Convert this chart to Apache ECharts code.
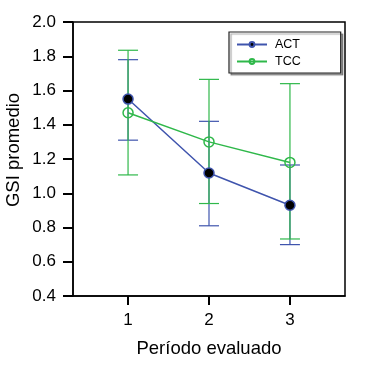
<!DOCTYPE html>
<html><head><meta charset="utf-8">
<script src="https://cdn.jsdelivr.net/npm/echarts@6/dist/echarts.min.js"></script>
<style>html,body{margin:0;padding:0;background:#fff}#c{width:365px;height:365px}</style>
</head><body><div id="c"></div>
<script>
const periods = [1, 2, 3];
const actMean = [1.55, 1.118, 0.93];
const actLow  = [1.31, 0.81, 0.70];
const actHigh = [1.78, 1.42, 1.165];
const tccMean = [1.47, 1.30, 1.18];
const tccLow  = [1.107, 0.94, 0.733];
const tccHigh = [1.835, 1.665, 1.64];
const yTitle = 'GSI promedio';
const xTitle = 'Período evaluado';

const BLUE = '#3f54ad';
const GREEN = '#2fb84a';
const FONT = 'Liberation Sans, Arial, sans-serif';

function errSeries(id, low, high, color) {
  return {
    type: 'custom', id: id, silent: true, z: 1,
    data: periods.map((p, i) => [p, low[i], high[i]]),
    renderItem: function (params, api) {
      const x = api.value(0);
      const lo = api.coord([x, api.value(1)]);
      const hi = api.coord([x, api.value(2)]);
      const hw = 10;
      const st = { stroke: color, lineWidth: 1.2 };
      return { type: 'group', children: [
        { type: 'line', shape: { x1: lo[0], y1: lo[1], x2: hi[0], y2: hi[1] }, style: st },
        { type: 'line', shape: { x1: lo[0]-hw, y1: lo[1], x2: lo[0]+hw, y2: lo[1] }, style: st },
        { type: 'line', shape: { x1: hi[0]-hw, y1: hi[1], x2: hi[0]+hw, y2: hi[1] }, style: st }
      ]};
    }
  };
}

const chart = echarts.init(document.getElementById('c'), null, { renderer: 'canvas' });
chart.setOption({
  animation: false,
  grid: { left: 73, right: 20, top: 22, bottom: 69, show: true, borderColor: '#000', borderWidth: 1.5, backgroundColor: 'transparent' },
  legend: {
    orient: 'vertical', left: 229, top: 32, width: 110,
    padding: [6, 40, 5, 7], itemGap: 4, itemWidth: 30, itemHeight: 6,
    backgroundColor: '#fff', borderColor: '#222', borderWidth: 1.2,
    shadowColor: 'rgba(0,0,0,0.35)', shadowOffsetX: 2, shadowOffsetY: 2, shadowBlur: 1,
    textStyle: { fontFamily: FONT, fontSize: 12.5, color: '#000', padding: [0,0,0,3] },
    data: ['ACT', 'TCC']
  },
  graphic: [{
    type: 'text', x: 14, y: 150, rotation: Math.PI / 2,
    style: { text: yTitle, fontFamily: FONT, fontSize: 18.5, fill: '#000', align: 'center', verticalAlign: 'middle' }
  }],
  xAxis: {
    type: 'value', min: 0.32, max: 3.68,
    name: xTitle, nameLocation: 'middle', nameGap: 43,
    nameTextStyle: { fontFamily: FONT, fontSize: 18.5, color: '#000' },
    splitLine: { show: false },
    axisLine: { show: true, lineStyle: { color: '#000', width: 1.5 } },
    axisTick: { show: true, inside: false, length: 9, lineStyle: { color: '#000', width: 2 }, customValues: periods },
    axisLabel: { fontFamily: FONT, fontSize: 17, color: '#000', margin: 16, customValues: periods }
  },
  yAxis: {
    type: 'value', min: 0.4, max: 2.0, interval: 0.2,
    splitLine: { show: false },
    axisLine: { show: true, lineStyle: { color: '#000', width: 1.5 } },
    axisTick: { show: true, inside: false, length: 10, lineStyle: { color: '#000', width: 2 } },
    axisLabel: { fontFamily: FONT, fontSize: 17, color: '#000', margin: 17, formatter: v => v.toFixed(1) }
  },
  series: [
    errSeries('actErr', actLow, actHigh, BLUE),
    errSeries('tccErr', tccLow, tccHigh, GREEN),
    {
      type: 'line', name: 'ACT', z: 3,
      data: periods.map((p, i) => [p, actMean[i]]),
      lineStyle: { color: BLUE, width: 1.5 },
      itemStyle: { color: '#000', borderColor: BLUE, borderWidth: 1.5 },
      symbol: 'circle', symbolSize: 10
    },
    {
      type: 'line', name: 'TCC', z: 3,
      data: periods.map((p, i) => [p, tccMean[i]]),
      lineStyle: { color: GREEN, width: 1.5 },
      itemStyle: { color: 'rgba(255,255,255,0)', borderColor: GREEN, borderWidth: 1.5 },
      symbol: 'circle', symbolSize: 10
    }
  ]
});
</script></body></html>
